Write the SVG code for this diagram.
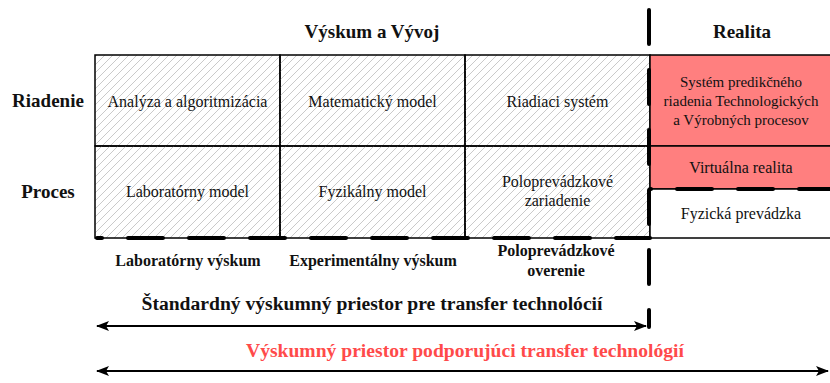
<svg xmlns="http://www.w3.org/2000/svg" width="830" height="383" viewBox="0 0 830 383">
<defs>
<pattern id="hatch" patternUnits="userSpaceOnUse" width="8" height="8">
<path d="M-1,9 L9,-1 M-3,3 L3,-3 M5,11 L11,5" stroke="#c4c4c4" stroke-width="0.9"/>
</pattern>
<marker id="ah" viewBox="0 0 13 10" refX="12" refY="5" markerWidth="13" markerHeight="10" markerUnits="userSpaceOnUse" orient="auto-start-reverse">
<path d="M0,0 L13,5 L0,10 L3,5 Z" fill="#000"/>
</marker>
<style>
.cell{stroke:#000;stroke-width:1.5}
.t{font-size:16px;fill:#111;text-anchor:middle}
.s{font-size:15px}
.b{font-weight:bold;fill:#111;text-anchor:middle}
.dash{stroke:#000;stroke-width:4;stroke-linecap:round;fill:none}
.arr{stroke:#000;stroke-width:1.8;fill:none}
</style>
</defs>
<rect width="830" height="383" fill="#fff"/>
<g font-family="Liberation Serif, DejaVu Serif, serif">
<g id="header">
<text class="b" x="372" y="38" font-size="19">Výskum a Vývoj</text>
<text class="b" x="742" y="38" font-size="19">Realita</text>
</g>
<g id="row-labels">
<text class="b" x="48" y="107" font-size="19">Riadenie</text>
<text class="b" x="48" y="198" font-size="19">Proces</text>
</g>

<g id="cell-analyza">
<rect class="cell" x="95" y="55" width="185" height="91" fill="url(#hatch)"/>
<text class="t" x="187.5" y="107">Analýza a algoritmizácia</text>
</g>
<g id="cell-matematicky">
<rect class="cell" x="280" y="55" width="185" height="91" fill="url(#hatch)"/>
<text class="t" x="372.5" y="107">Matematický model</text>
</g>
<g id="cell-riadiaci">
<rect class="cell" x="465" y="55" width="185" height="91" fill="url(#hatch)"/>
<text class="t" x="557.5" y="107">Riadiaci systém</text>
</g>
<g id="cell-laboratorny">
<rect class="cell" x="95" y="146" width="185" height="92" fill="url(#hatch)"/>
<text class="t" x="187.5" y="197">Laboratórny model</text>
</g>
<g id="cell-fyzikalny">
<rect class="cell" x="280" y="146" width="185" height="92" fill="url(#hatch)"/>
<text class="t" x="372.5" y="197">Fyzikálny model</text>
</g>
<g id="cell-poloprevadzkove">
<rect class="cell" x="465" y="146" width="185" height="92" fill="url(#hatch)"/>
<text class="t" x="557.5" y="187">Poloprevádzkové</text>
<text class="t" x="557.5" y="206">zariadenie</text>
</g>
<g id="cell-system">
<rect class="cell" x="650" y="55" width="182" height="91" fill="#ff7f7f"/>
<text class="t s" x="741" y="87">Systém predikčného</text>
<text class="t s" x="741" y="106">riadenia Technologických</text>
<text class="t s" x="741" y="125">a Výrobných procesov</text>
</g>
<g id="cell-virtualna">
<rect class="cell" x="650" y="146" width="182" height="43" fill="#ff7f7f"/>
<text class="t" x="741" y="173">Virtuálna realita</text>
</g>
<g id="cell-fyzicka">
<rect class="cell" x="650" y="189" width="182" height="49" fill="#fff"/>
<text class="t" x="741" y="219">Fyzická prevádzka</text>
</g>

<g id="stage-labels">
<text class="b" x="188" y="266" font-size="16">Laboratórny výskum</text>
<text class="b" x="373" y="266" font-size="16">Experimentálny výskum</text>
<text class="b" x="556" y="256" font-size="16">Poloprevádzkové</text>
<text class="b" x="556" y="276" font-size="16">overenie</text>
</g>

<g id="connectors">
<line class="dash" x1="97" y1="238" x2="650" y2="238" stroke-dasharray="35 26" stroke-dashoffset="30"/>
<line class="dash" x1="650" y1="189" x2="830" y2="189" stroke-dasharray="35 26" stroke-dashoffset="34"/>
<line class="dash" x1="649" y1="10" x2="649" y2="327" stroke-dasharray="34 26"/>
<line class="arr" x1="97" y1="326" x2="646" y2="326" marker-start="url(#ah)" marker-end="url(#ah)"/>
<line class="arr" x1="97" y1="371" x2="828" y2="371" marker-start="url(#ah)" marker-end="url(#ah)"/>
</g>

<g id="range-labels">
<text class="b" x="372" y="310" font-size="19.6">Štandardný výskumný priestor pre transfer technolócií</text>
<text class="b" x="465" y="357" font-size="19.6" style="fill:#ff4a4a">Výskumný priestor podporujúci transfer technológií</text>
</g>
</g>
</svg>
